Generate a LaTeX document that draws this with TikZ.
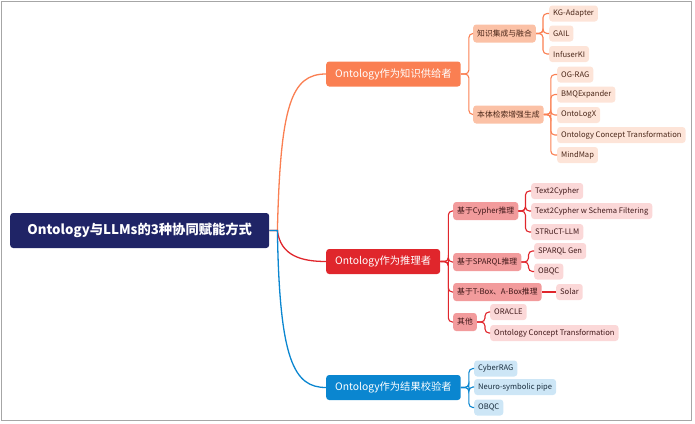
\documentclass[tikz,border=0pt]{standalone}
\usepackage{fontspec}
\setmainfont{Noto Sans CJK SC}
\usepackage{tikz}
\usetikzlibrary{positioning}
\usepackage{xcolor}
\definecolor{froot}{HTML}{1F2466}
\definecolor{fkp}{HTML}{FA7F52}
\definecolor{fkpsub}{HTML}{FBC1A6}
\definecolor{fkpleaf}{HTML}{FDE4D8}
\definecolor{fkptext}{HTML}{4A2618}
\definecolor{frs}{HTML}{E0262C}
\definecolor{frssub}{HTML}{F29B9C}
\definecolor{frsleaf}{HTML}{FBD8D8}
\definecolor{frstext}{HTML}{401819}
\definecolor{fvf}{HTML}{0A86D0}
\definecolor{fvfleaf}{HTML}{CDE6F6}
\definecolor{fvftext}{HTML}{182C3C}

\begin{document}
\begin{tikzpicture}[x=1pt, y=-1pt,
  box/.style={rounded corners=3pt, anchor=west, inner ysep=0pt},
  rootbox/.style={box, fill=froot, text=white, font=\bfseries\fontsize{13.3}{16}\selectfont,
    minimum width=259pt, minimum height=35pt},
  mainbox/.style={box, text=white, font=\fontsize{10.3}{13}\selectfont, inner xsep=9pt, minimum height=25pt},
  subbox/.style={box, font=\fontsize{7.8}{9}\selectfont, inner xsep=4pt, minimum height=18pt},
  leafbox/.style={box, font=\fontsize{7.6}{9}\selectfont, inner xsep=4pt, minimum height=16pt},
  link/.style={line width=1.1pt, rounded corners=4pt}]
\useasboundingbox (0,0) rectangle (695,423);
\draw[gray!70, line width=1pt] (1,1) rectangle (691,420);
% ---------------- root ----------------
\node[rootbox] (root) at (10,230.5) {Ontology与LLMs的3种协同赋能方式};
% ---------------- knowledge provider ----------------
\node[mainbox, fill=fkp] (kp) at (326,74) {Ontology作为知识供给者};
\node[subbox, fill=fkpsub, text=fkptext] (kp1) at (473,33.5) {知识集成与融合};
\node[subbox, fill=fkpsub, text=fkptext] (kp2) at (473,114.5) {本体检索增强生成};
\node[leafbox, fill=fkpleaf, text=fkptext] (kp1a) at (549,13.5) {KG-Adapter};
\node[leafbox, fill=fkpleaf, text=fkptext] (kp1b) at (549,33.5) {GAIL};
\node[leafbox, fill=fkpleaf, text=fkptext] (kp1c) at (549,54) {InfuserKI};
\node[leafbox, fill=fkpleaf, text=fkptext] (kp2a) at (557,74.5) {OG-RAG};
\node[leafbox, fill=fkpleaf, text=fkptext] (kp2b) at (557,94.5) {BMQExpander};
\node[leafbox, fill=fkpleaf, text=fkptext] (kp2c) at (557,115) {OntoLogX};
\node[leafbox, fill=fkpleaf, text=fkptext] (kp2d) at (557,135) {Ontology Concept Transformation};
\node[leafbox, fill=fkpleaf, text=fkptext] (kp2e) at (557,155) {MindMap};
\foreach \c in {kp1,kp2}{\draw[link, fkp] (kp.east) -- ++(8,0) |- (\c.west);}
\foreach \c in {kp1a,kp1b,kp1c}{\draw[link, fkp] (kp1.east) -- ++(7,0) |- (\c.west);}
\foreach \c in {kp2a,kp2b,kp2c,kp2d,kp2e}{\draw[link, fkp] (kp2.east) -- ++(7,0) |- (\c.west);}
% ---------------- reasoner ----------------
\node[mainbox, fill=frs] (rs) at (326,261.5) {Ontology作为推理者};
\node[subbox, fill=frssub, text=frstext] (rs1) at (453,211) {基于Cypher推理};
\node[subbox, fill=frssub, text=frstext] (rs2) at (453,262) {基于SPARQL推理};
\node[subbox, fill=frssub, text=frstext] (rs3) at (453,292) {基于T-Box、A-Box推理};
\node[subbox, fill=frssub, text=frstext] (rs4) at (453,322) {其他};
\node[leafbox, fill=frsleaf, text=frstext] (rs1a) at (531,191) {Text2Cypher};
\node[leafbox, fill=frsleaf, text=frstext] (rs1b) at (531,211) {Text2Cypher w Schema Filtering};
\node[leafbox, fill=frsleaf, text=frstext] (rs1c) at (531,232) {STRuCT-LLM};
\node[leafbox, fill=frsleaf, text=frstext] (rs2a) at (534,251) {SPARQL Gen};
\node[leafbox, fill=frsleaf, text=frstext] (rs2b) at (534,271.5) {OBQC};
\node[leafbox, fill=frsleaf, text=frstext] (rs3a) at (556,292) {Solar};
\node[leafbox, fill=frsleaf, text=frstext] (rs4a) at (490,312) {ORACLE};
\node[leafbox, fill=frsleaf, text=frstext] (rs4b) at (490,333) {Ontology Concept Transformation};
\foreach \c in {rs1,rs2,rs3,rs4}{\draw[link, frs] (rs.east) -- ++(8,0) |- (\c.west);}
\foreach \c in {rs1a,rs1b,rs1c}{\draw[link, frs] (rs1.east) -- ++(7,0) |- (\c.west);}
\foreach \c in {rs2a,rs2b}{\draw[link, frs] (rs2.east) -- ++(7,0) |- (\c.west);}
\draw[link, frs] (rs3.east) -- (rs3a.west);
\foreach \c in {rs4a,rs4b}{\draw[link, frs] (rs4.east) -- ++(8,0) |- (\c.west);}
% ---------------- verifier ----------------
\node[mainbox, fill=fvf] (vf) at (326,387.5) {Ontology作为结果校验者};
\node[leafbox, fill=fvfleaf, text=fvftext] (vf1) at (474,368.5) {CyberRAG};
\node[leafbox, fill=fvfleaf, text=fvftext] (vf2) at (474,387) {Neuro-symbolic pipe};
\node[leafbox, fill=fvfleaf, text=fvftext] (vf3) at (474,407.5) {OBQC};
\foreach \c in {vf1,vf2,vf3}{\draw[link, fvf] (vf.east) -- ++(8,0) |- (\c.west);}
% main curves
\draw[fkp, line width=1.3pt] (root.east) -- ++(8,0) .. controls +(3,-125) and +(-35,0) .. (kp.west);
\draw[frs, line width=1.3pt] (root.east) -- ++(8,0) .. controls +(3,25) and +(-25,0) .. (rs.west);
\draw[fvf, line width=1.3pt] (root.east) -- ++(8,0) .. controls +(2,130) and +(-32,0) .. (vf.west);
\end{tikzpicture}
\end{document}
